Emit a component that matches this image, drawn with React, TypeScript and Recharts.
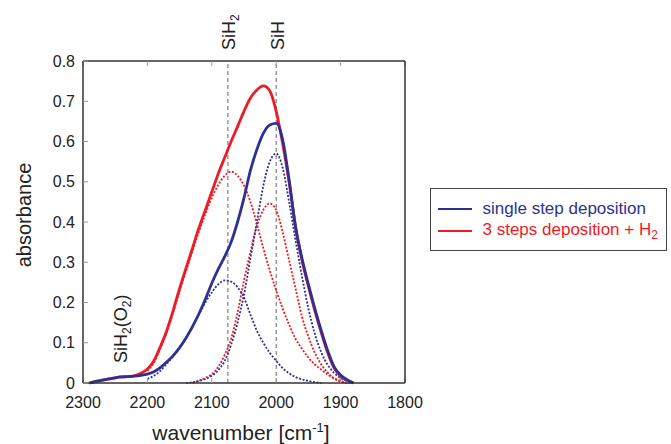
import React from 'react';
import { LineChart, Line, XAxis, YAxis, ReferenceLine, Legend, Customized } from 'recharts';

const FONT = '"Liberation Sans", Arial, Helvetica, sans-serif';
const BLUE = '#2e3192';
const RED = '#ed1c24';
const INK = '#222';

// wavenumber grid (cm-1), every 10 cm-1
const wavenumbers = [
  2290, 2280, 2270, 2260, 2250, 2240, 2230, 2220, 2210, 2200, 2190, 2180, 2170, 2160,
  2150, 2140, 2130, 2120, 2110, 2100, 2090, 2080, 2070, 2060, 2050, 2040, 2030, 2020,
  2010, 2000, 1990, 1980, 1970, 1960, 1950, 1940, 1930, 1920, 1910, 1900, 1890, 1880,
];

// measured spectra
const singleStep = [
  0, 0.004, 0.007, 0.01, 0.013, 0.015, 0.016, 0.017, 0.019, 0.022, 0.028, 0.038, 0.052, 0.068,
  0.088, 0.112, 0.14, 0.172, 0.208, 0.248, 0.283, 0.314, 0.35, 0.4, 0.46, 0.528, 0.58, 0.62,
  0.641, 0.645, 0.605, 0.505, 0.387, 0.31, 0.245, 0.185, 0.13, 0.08, 0.04, 0.02, 0.008, 0,
];
const threeSteps = [
  0, 0.004, 0.007, 0.01, 0.013, 0.015, 0.016, 0.018, 0.024, 0.035, 0.055, 0.09, 0.13, 0.18,
  0.235, 0.285, 0.335, 0.385, 0.43, 0.475, 0.52, 0.56, 0.6, 0.637, 0.675, 0.708, 0.728, 0.738,
  0.726, 0.675, 0.595, 0.5, 0.39, 0.305, 0.24, 0.18, 0.125, 0.075, 0.037, 0.017, 0.007, 0,
];

// fitted components (dotted)
const singleSiH2 = [
  null, null, null, null, null, null, null, null, null, 0.01, 0.018, 0.03, 0.048, 0.066,
  0.088, 0.112, 0.14, 0.17, 0.2, 0.225, 0.245, 0.255, 0.252, 0.238, 0.212, 0.17, 0.13, 0.1,
  0.075, 0.055, 0.037, 0.024, 0.015, 0.009, 0.005, 0.002, 0, null, null, null, null, null,
];
const threeSiH2 = [
  null, null, null, null, null, null, null, null, null, 0.03, 0.05, 0.085, 0.125, 0.175,
  0.228, 0.278, 0.328, 0.376, 0.42, 0.46, 0.492, 0.515, 0.525, 0.515, 0.49, 0.45, 0.395, 0.335,
  0.28, 0.23, 0.185, 0.145, 0.11, 0.085, 0.063, 0.046, 0.033, 0.021, 0.012, 0.005, 0.001, 0,
];
const singleSiH = [
  null, null, null, null, null, null, null, null, null, null, null, null, null, null,
  null, 0, 0.002, 0.005, 0.01, 0.018, 0.032, 0.055, 0.095, 0.15, 0.22, 0.31, 0.4, 0.49,
  0.55, 0.57, 0.535, 0.45, 0.355, 0.265, 0.185, 0.122, 0.076, 0.045, 0.025, 0.012, 0.005, 0,
];
const threeSiH = [
  null, null, null, null, null, null, null, null, null, null, null, null, null, null,
  null, null, 0, 0.006, 0.013, 0.022, 0.04, 0.07, 0.11, 0.175, 0.255, 0.325, 0.39, 0.43,
  0.446, 0.43, 0.375, 0.305, 0.235, 0.165, 0.115, 0.075, 0.046, 0.026, 0.011, 0.003, 0, null,
];

const xTicks = [2300, 2200, 2100, 2000, 1900, 1800];
const yTicks = [0, 0.1, 0.2, 0.3, 0.4, 0.5, 0.6, 0.7, 0.8];

const peaks = [
  { x: 2075, name: 'SiH', sub: '2' },
  { x: 2000, name: 'SiH', sub: '' },
];

const legendItems = [
  { label: 'single step deposition', sub: '', color: BLUE },
  { label: '3 steps deposition + H', sub: '2', color: RED },
];

const rows = wavenumbers.map((wn, i) => ({
  wn,
  singleStep: singleStep[i],
  threeSteps: threeSteps[i],
  singleSiH2: singleSiH2[i],
  threeSiH2: threeSiH2[i],
  singleSiH: singleSiH[i],
  threeSiH: threeSiH[i],
}));

const PeakLabel = (props: any) => {
  const vb = props.viewBox || { x: 0, y: 61 };
  const x = vb.x + 7.5;
  const y = vb.y - 11;
  return (
    <text x={x} y={y} transform={`rotate(-90 ${x} ${y})`} fontSize={18} fill={INK} fontFamily={FONT}>
      {props.name}
      {props.sub ? (
        <tspan dy={4} fontSize={12}>
          {props.sub}
        </tspan>
      ) : null}
    </text>
  );
};

// axis titles and the small SiH2(O2) note
const Annotations = () => (
  <g fontFamily={FONT} fill={INK}>
    <text x={31} y={215} transform="rotate(-90 31 215)" textAnchor="middle" fontSize={20}>
      absorbance
    </text>
    <text x={241} y={440} textAnchor="middle" fontSize={21}>
      wavenumber [cm
      <tspan dy={-8} fontSize={13}>
        -1
      </tspan>
      <tspan dy={8}>]</tspan>
    </text>
    <text x={127} y={363} transform="rotate(-90 127 363)" fontSize={18}>
      SiH
      <tspan dy={4} fontSize={12}>2</tspan>
      <tspan dy={-4}>(O</tspan>
      <tspan dy={4} fontSize={12}>2</tspan>
      <tspan dy={-4}>)</tspan>
    </text>
  </g>
);

const LegendBox = () => (
  <div
    style={{
      boxSizing: 'border-box',
      width: 237,
      height: 63,
      border: '1.5px solid #444',
      background: '#fff',
      paddingTop: 9.5,
      fontFamily: FONT,
    }}
  >
    {legendItems.map(item => (
      <div key={item.label} style={{ display: 'flex', alignItems: 'center', height: 21.7 }}>
        <span style={{ marginLeft: 6.5, width: 34, height: 2, background: item.color }} />
        <span style={{ marginLeft: 11, color: item.color, fontSize: 17, whiteSpace: 'nowrap' }}>
          {item.label}
          {item.sub && <span style={{ fontSize: 12, verticalAlign: -4 }}>{item.sub}</span>}
        </span>
      </div>
    ))}
  </div>
);

const axisLine = { stroke: '#333', strokeWidth: 1.5 };
const tickLine = { stroke: '#999' };
const tickStyle = { fill: INK, fontSize: 16, fontFamily: FONT };

export default function App() {
  return (
    <div style={{ width: 671, height: 444, position: 'relative', background: '#fff' }}>
      <style>{'body{margin:0}'}</style>
      <LineChart width={671} height={444} data={rows} margin={{ top: 51, right: 256, bottom: 31, left: 43 }}>
        <XAxis
          dataKey="wn"
          type="number"
          domain={[1800, 2300]}
          ticks={xTicks}
          reversed
          allowDataOverflow
          height={30}
          axisLine={axisLine}
          tickLine={tickLine}
          tickSize={-5}
          tickMargin={19}
          tick={tickStyle}
        />
        <XAxis
          xAxisId="top"
          orientation="top"
          dataKey="wn"
          type="number"
          domain={[1800, 2300]}
          ticks={xTicks}
          reversed
          height={10}
          axisLine={axisLine}
          tickLine={tickLine}
          tickSize={-5}
          tickFormatter={() => ''}
        />
        <YAxis
          domain={[0, 0.8]}
          ticks={yTicks}
          width={40}
          axisLine={axisLine}
          tickLine={tickLine}
          tickSize={-5}
          tickMargin={13}
          tick={tickStyle}
          tickFormatter={(v: number) => (v === 0 ? '0' : v.toFixed(1))}
        />
        <YAxis
          yAxisId="right"
          orientation="right"
          domain={[0, 0.8]}
          ticks={yTicks}
          width={10}
          axisLine={axisLine}
          tickLine={tickLine}
          tickSize={-5}
          tickFormatter={() => ''}
        />
        {peaks.map(p => (
          <ReferenceLine
            key={p.x}
            x={p.x}
            stroke="#666"
            strokeDasharray="4 3"
            label={(props: any) => <PeakLabel {...props} name={p.name} sub={p.sub} />}
          />
        ))}
        <Line dataKey="threeSiH2" stroke={RED} strokeWidth={1.8} strokeDasharray="2 1.6" type="monotone" dot={false} activeDot={false} isAnimationActive={false} />
        <Line dataKey="threeSiH" stroke={RED} strokeWidth={1.8} strokeDasharray="2 1.6" type="monotone" dot={false} activeDot={false} isAnimationActive={false} />
        <Line dataKey="singleSiH2" stroke={BLUE} strokeWidth={1.8} strokeDasharray="2 1.6" type="monotone" dot={false} activeDot={false} isAnimationActive={false} />
        <Line dataKey="singleSiH" stroke={BLUE} strokeWidth={1.8} strokeDasharray="2 1.6" type="monotone" dot={false} activeDot={false} isAnimationActive={false} />
        <Line dataKey="threeSteps" stroke={RED} strokeWidth={2.8} type="monotone" dot={false} activeDot={false} isAnimationActive={false} />
        <Line dataKey="singleStep" stroke={BLUE} strokeWidth={2.8} type="monotone" dot={false} activeDot={false} isAnimationActive={false} />
        <Customized component={Annotations} />
        <Legend
          layout="vertical"
          align="center"
          verticalAlign="middle"
          content={() => <LegendBox />}
          wrapperStyle={{ left: 430, top: 188, width: 237, height: 63 }}
        />
      </LineChart>
    </div>
  );
}
